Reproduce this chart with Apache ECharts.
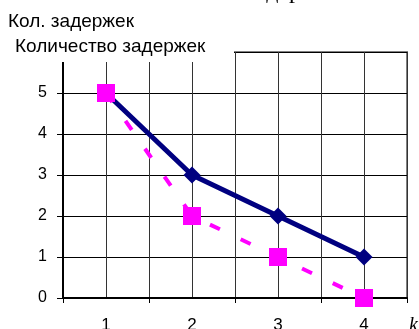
<!DOCTYPE html>
<html>
<head>
    <meta charset="utf-8">
    <title>ECharts</title>
    <script src="https://cdn.jsdelivr.net/npm/echarts@6/dist/echarts.min.js"></script>
</head>
<body style="margin:0">
<div id="main" style="width: 419px;height:329px;"></div>
<script type="text/javascript">
    var myChart = echarts.init(document.getElementById('main'));

    // данные
    var xValues = [1, 2, 3, 4];
    var seriesA = [5, 3, 2, 1];
    var seriesB = [5, 2, 1, 0];
    var xLabels = [1, 2, 3, 4];
    var xTicks = [0.5, 1.5, 2.5, 3.5, 4.5];
    var yLabels = [0, 1, 2, 3, 4, 5];

    function pairs(xs, ys) {
        var out = [];
        for (var i = 0; i < xs.length; i++) {
            out.push([xs[i], ys[i]]);
        }
        return out;
    }

    var font = '"Liberation Sans", Arial, sans-serif';

    option = {
        animation: false,
        backgroundColor: '#fff',
        grid: {
            left: 63,
            right: 12,
            top: 52,
            bottom: 31,
            outerBoundsMode: 'none',
            show: true,
            borderColor: '#808080',
            borderWidth: 2
        },
        xAxis: [
            {
                type: 'value',
                min: 0.5,
                max: 4.5,
                interval: 0.5,
                axisLine: { lineStyle: { color: '#000', width: 2 } },
                axisTick: { show: true, length: 5, customValues: xTicks, lineStyle: { color: '#000' } },
                axisLabel: { customValues: xLabels, margin: 19, color: '#000', fontSize: 17, fontFamily: font },
                splitLine: { show: false }
            },
            {
                // только для вертикальной сетки
                type: 'value',
                position: 'bottom',
                min: 0.5,
                max: 4.5,
                interval: 0.5,
                axisLine: { show: false },
                axisTick: { show: false },
                axisLabel: { show: false },
                splitLine: { show: true, lineStyle: { color: '#333', width: 1 } }
            }
        ],
        yAxis: {
            type: 'value',
            min: 0,
            max: 6,
            interval: 1,
            axisLine: { show: true, lineStyle: { color: '#000', width: 2 } },
            axisTick: { show: true, length: 6, lineStyle: { color: '#000' } },
            axisLabel: { customValues: yLabels, margin: 16, color: '#000', fontSize: 16, fontFamily: font },
            splitLine: { show: true, lineStyle: { color: '#000', width: 1 } }
        },
        graphic: [
            { type: 'rect', z: 100, shape: { x: 0, y: 0, width: 234, height: 62 }, style: { fill: '#fff' } },
            { type: 'text', z: 101, left: 8, top: 12, style: { text: 'Кол. задержек', font: '19px ' + font, fill: '#000' } },
            { type: 'text', z: 101, left: 15, top: 37, style: { text: 'Количество задержек', font: '19px ' + font, fill: '#000' } },
            { type: 'text', z: 101, x: 246, y: 4, style: { text: 'задержек', font: '24px "Liberation Serif", serif', fill: '#000', verticalAlign: 'bottom' } },
            { type: 'text', z: 101, x: 409, y: 316, style: { text: 'k', font: 'italic 20px "Liberation Serif", serif', fill: '#000' } }
        ],
        series: [
            {
                name: 'A',
                type: 'line',
                data: pairs(xValues, seriesA),
                symbol: 'diamond',
                symbolSize: 17,
                itemStyle: { color: '#000080' },
                lineStyle: { color: '#000080', width: 5 }
            },
            {
                name: 'B',
                type: 'line',
                data: pairs(xValues, seriesB),
                symbol: 'rect',
                symbolSize: 18,
                itemStyle: { color: '#ff00ff' },
                lineStyle: { color: '#ff00ff', width: 4, type: [11, 23] }
            }
        ]
    };

    myChart.setOption(option);
</script>
</body>
</html>
